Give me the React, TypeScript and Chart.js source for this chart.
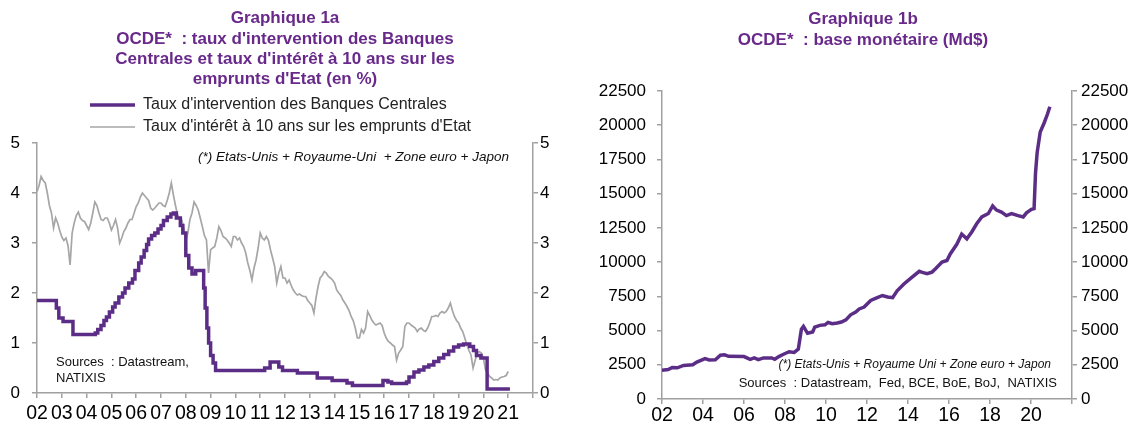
import React, { useEffect, useRef } from 'react';
import { Chart, registerables } from 'chart.js';

Chart.register(...registerables);

const FONT = "'Liberation Sans', Arial, sans-serif";
const PURPLE = '#5C2D87';
const TITLE_PURPLE = '#68298A';
const GRAY = '#A6A6A6';
const AXIS = '#A0A0A0';

// ---------- texts ----------
const titleLeft = [
  'Graphique 1a',
  "OCDE*  : taux d'intervention des Banques",
  "Centrales et taux d'intérêt à 10 ans sur les",
  "emprunts d'Etat (en %)",
];
const legendLeft = [
  'Taux d\'intervention des Banques Centrales',
  "Taux d'intérêt à 10 ans sur les emprunts d'Etat",
];
const noteLeft = '(*) Etats-Unis + Royaume-Uni  + Zone euro + Japon';
const sourcesLeft = ['Sources  : Datastream,', 'NATIXIS'];

const titleRight = ['Graphique 1b', 'OCDE*  : base monétaire (Md$)'];
const noteRight = '(*) Etats-Unis + Royaume Uni + Zone euro + Japon';
const sourcesRight = 'Sources  : Datastream,  Fed, BCE, BoE, BoJ,  NATIXIS';

// ---------- data: chart 1a ----------
const yieldStartYear = 2002; // monthly observations from Jan 2002
const yieldMonthly = [
  4.03, 4.15, 4.33, 4.25, 4.2, 4.0, 3.75, 3.6, 3.3, 3.5, 3.4, 3.25,
  3.12, 3.05, 3.1, 2.95, 2.56, 3.2, 3.4, 3.55, 3.62, 3.5, 3.45, 3.43,
  3.35, 3.27, 3.4, 3.6, 3.82, 3.75, 3.6, 3.47, 3.45, 3.5, 3.5, 3.4,
  3.26, 3.35, 3.47, 3.3, 3.0, 3.1, 3.23, 3.3, 3.4, 3.47, 3.47, 3.6,
  3.73, 3.8, 3.92, 4.0, 3.95, 3.9, 3.85, 3.7, 3.66, 3.7, 3.75, 3.8,
  3.8, 3.75, 3.73, 3.85, 4.0, 4.2, 3.96, 3.75, 3.56, 3.5, 3.47, 3.3,
  3.06, 3.2, 3.47, 3.6, 3.82, 3.75, 3.66, 3.5, 3.33, 3.15, 3.06, 2.4,
  2.86, 2.9, 2.93, 3.1, 3.33, 3.25, 3.13, 3.1, 3.06, 3.0, 2.93, 3.13,
  3.13, 3.06, 3.1, 3.0, 2.93, 2.8, 2.6, 2.45, 2.26, 2.5, 2.66, 2.9,
  3.2, 3.1, 3.06, 3.13, 3.05, 2.86, 2.7, 2.53, 2.2, 2.4, 2.53, 2.3,
  2.3, 2.2, 2.26, 2.15, 2.06, 2.0, 1.96, 1.98, 1.95, 1.93, 1.93, 1.85,
  1.8, 1.75, 1.6, 1.9, 2.13, 2.3, 2.35, 2.43, 2.4, 2.33, 2.3, 2.26,
  2.2, 2.06, 2.0, 1.95, 1.86, 1.8, 1.73, 1.65, 1.53, 1.45, 1.3, 1.1,
  1.1, 1.27, 1.2, 1.3, 1.63, 1.55, 1.46, 1.4, 1.36, 1.38, 1.4, 1.35,
  1.2, 1.1, 1.03, 1.0, 0.96, 0.93, 0.66, 0.8, 0.86, 0.93, 1.33, 1.4,
  1.4, 1.36, 1.33, 1.3, 1.23, 1.28, 1.3, 1.25, 1.23, 1.3, 1.4, 1.53,
  1.53, 1.55, 1.53, 1.6, 1.63, 1.6, 1.63, 1.7, 1.8, 1.65, 1.53, 1.45,
  1.4, 1.3, 1.23, 1.1, 0.96, 0.85, 0.76, 0.5, 0.65, 0.8, 0.83, 0.8,
  0.7, 0.46, 0.4, 0.33, 0.3, 0.26, 0.27, 0.26, 0.3, 0.32, 0.33, 0.35,
  0.43,
];

const policyDates = [
  2002, 2002.78, 2002.88, 2003.05, 2003.45, 2004.35, 2004.45, 2004.58, 2004.7, 2004.8,
  2004.92, 2005.05, 2005.15, 2005.3, 2005.45, 2005.55, 2005.7, 2005.85, 2005.95, 2006.1,
  2006.2, 2006.32, 2006.42, 2006.5, 2006.62, 2006.75, 2006.88, 2007.0, 2007.1, 2007.25,
  2007.4, 2007.5, 2007.62, 2007.78, 2007.88, 2008.0, 2008.12, 2008.25, 2008.4, 2008.72,
  2008.78, 2008.85, 2008.92, 2009.0, 2009.1, 2009.2, 2011.18, 2011.4, 2011.75, 2011.9,
  2012.5, 2013.3, 2013.9, 2014.5, 2014.72, 2015.95, 2016.15, 2016.3, 2016.9, 2017.0,
  2017.2, 2017.4, 2017.6, 2017.8, 2018.0, 2018.2, 2018.4, 2018.6, 2018.8, 2019.0,
  2019.2, 2019.45, 2019.6, 2019.72, 2019.9, 2020.15, 2021.07,
];
const policyRates = [
  1.85, 1.7, 1.5, 1.43, 1.17, 1.2, 1.27, 1.35, 1.45, 1.52,
  1.62, 1.72, 1.8, 1.92, 2.0, 2.1, 2.2, 2.28, 2.45, 2.6,
  2.72, 2.85, 2.97, 3.08, 3.15, 3.2, 3.28, 3.35, 3.45, 3.52,
  3.58, 3.6, 3.5, 3.35, 3.2, 2.75, 2.5, 2.38, 2.45, 2.1,
  1.7, 1.3, 1.0, 0.75, 0.6, 0.45, 0.5, 0.62, 0.52, 0.45,
  0.4, 0.3, 0.25, 0.2, 0.15, 0.25, 0.22, 0.19, 0.22, 0.32,
  0.42, 0.46, 0.52, 0.56, 0.63, 0.7, 0.77, 0.84, 0.92, 0.96,
  0.98, 0.93, 0.85, 0.75, 0.7, 0.08, 0.08,
];

// ---------- data: chart 1b ----------
const baseDates = [
  2002.0, 2002.3, 2002.5, 2002.75, 2003.05, 2003.5, 2003.7, 2004.1, 2004.3, 2004.6,
  2004.85, 2005.05, 2005.25, 2006.0, 2006.3, 2006.5, 2006.7, 2006.95, 2007.35, 2007.5,
  2007.7, 2007.9, 2008.2, 2008.45, 2008.65, 2008.8, 2008.9, 2009.1, 2009.35, 2009.45,
  2009.7, 2009.95, 2010.1, 2010.3, 2010.55, 2010.75, 2010.97, 2011.2, 2011.45, 2011.62,
  2011.86, 2012.18, 2012.5, 2012.75, 2013.0, 2013.25, 2013.47, 2013.8, 2014.2, 2014.55,
  2014.7, 2014.93, 2015.17, 2015.33, 2015.66, 2015.9, 2016.06, 2016.38, 2016.62, 2016.87,
  2017.11, 2017.35, 2017.6, 2017.92, 2018.13, 2018.32, 2018.56, 2018.8, 2019.05, 2019.37,
  2019.62, 2019.78, 2020.02, 2020.15, 2020.22, 2020.3, 2020.45, 2020.65, 2020.8, 2020.92,
];
const baseValues = [
  2100, 2150, 2300, 2280, 2450, 2500, 2700, 2950, 2850, 2870,
  3200, 3230, 3120, 3100, 2900, 3000, 2880, 3000, 3000, 2900,
  3100, 3250, 3450, 3400, 3650, 5100, 5300, 4800, 4900, 5250,
  5380, 5420, 5600, 5500, 5550, 5620, 5780, 6150, 6350, 6580,
  6720, 7200, 7400, 7560, 7450, 7400, 7900, 8400, 8900, 9330,
  9250, 9150, 9270, 9500, 10000, 10120, 10600, 11300, 12050, 11700,
  12200, 12800, 13300, 13550, 14100, 13800, 13650, 13400, 13550, 13400,
  13300, 13600, 13850, 13900, 16500, 18000, 19500, 20200, 20800, 21350,
];

// ---------- helpers ----------
type Item =
  | { kind: 'text'; text: string; x: number; y: number; font: string; color: string; align?: CanvasTextAlign }
  | { kind: 'line'; x1: number; x2: number; y: number; color: string; width: number };

function makeTextPlugin(id: string, items: Item[]) {
  return {
    id,
    afterDraw(chart: any) {
      const ctx: CanvasRenderingContext2D = chart.ctx;
      ctx.save();
      for (const it of items) {
        if (it.kind === 'line') {
          ctx.beginPath();
          ctx.strokeStyle = it.color;
          ctx.lineWidth = it.width;
          ctx.moveTo(it.x1, it.y);
          ctx.lineTo(it.x2, it.y);
          ctx.stroke();
        } else {
          ctx.font = it.font;
          ctx.fillStyle = it.color;
          ctx.textAlign = it.align || 'left';
          ctx.textBaseline = 'middle';
          ctx.fillText(it.text, it.x, it.y);
        }
      }
      ctx.restore();
    },
  };
}

const yearLabel = (v: any) => {
  const n = Math.round(Number(v));
  if (n >= 2022) return '';
  return String(n).slice(2);
};

function axisCommon(tickLen: number) {
  return {
    grid: { display: true, drawOnChartArea: false, drawTicks: true, tickLength: tickLen, color: AXIS, lineWidth: 1.5 },
    border: { display: true, color: AXIS, width: 1.5 },
  };
}

const TITLE_FONT = { family: FONT, size: 17, weight: 'bold', lineHeight: 1.2 };

function buildLeft(): any {
  const items: Item[] = [
    { kind: 'line', x1: 90, x2: 135, y: 105, color: PURPLE, width: 3.5 },
    { kind: 'text', text: legendLeft[0], x: 143, y: 105, font: `16px ${FONT}`, color: '#222' },
    { kind: 'line', x1: 90, x2: 135, y: 127, color: GRAY, width: 1.5 },
    { kind: 'text', text: legendLeft[1], x: 143, y: 127, font: `16px ${FONT}`, color: '#222' },
    { kind: 'text', text: noteLeft, x: 198, y: 157, font: `italic 13.5px ${FONT}`, color: '#111' },
    { kind: 'text', text: sourcesLeft[0], x: 56, y: 362, font: `13px ${FONT}`, color: '#111' },
    { kind: 'text', text: sourcesLeft[1], x: 56, y: 378, font: `13px ${FONT}`, color: '#111' },
  ];
  return {
    type: 'line',
    data: {
      datasets: [
        {
          label: legendLeft[0],
          data: policyDates.map((d, i) => ({ x: d, y: policyRates[i] })),
          borderColor: PURPLE,
          backgroundColor: PURPLE,
          borderWidth: 3.5,
          stepped: true,
          pointRadius: 0,
          yAxisID: 'y',
        },
        {
          label: legendLeft[1],
          data: yieldMonthly.map((v, i) => ({ x: yieldStartYear + i / 12, y: v })),
          borderColor: GRAY,
          backgroundColor: GRAY,
          borderWidth: 1.7,
          pointRadius: 0,
          tension: 0,
          yAxisID: 'y',
        },
      ],
    },
    options: {
      responsive: false,
      animation: false,
      devicePixelRatio: 1,
      layout: { padding: 0 },
      plugins: {
        legend: { display: false },
        tooltip: { enabled: false },
        title: {
          display: true,
          text: titleLeft,
          color: TITLE_PURPLE,
          font: TITLE_FONT,
          padding: { top: 8.3, bottom: 53.1 },
        },
      },
      scales: {
        x: {
          type: 'linear',
          min: 2002,
          max: 2022,
          afterFit: (s: any) => { s.height = 34; },
          ticks: {
            stepSize: 1, autoSkip: false, maxRotation: 0, padding: 4,
            color: '#000', font: { family: FONT, size: 19.5 },
            callback: yearLabel,
          },
          ...axisCommon(5),
        },
        y: {
          position: 'left',
          min: 0, max: 5,
          afterFit: (s: any) => { s.width = 37; },
          ticks: { stepSize: 1, padding: 12, color: '#000', font: { family: FONT, size: 17 } },
          ...axisCommon(5),
        },
        y2: {
          position: 'right',
          min: 0, max: 5,
          afterFit: (s: any) => { s.width = 37; },
          ticks: { stepSize: 1, padding: 2, color: '#000', font: { family: FONT, size: 17 } },
          ...axisCommon(5),
        },
      },
    },
    plugins: [makeTextPlugin('textsLeft', items)],
  };
}

function buildRight(): any {
  const items: Item[] = [
    { kind: 'text', text: noteRight, x: 466, y: 365, font: `italic 12px ${FONT}`, color: '#111', align: 'right' },
    { kind: 'text', text: sourcesRight, x: 472, y: 383, font: `13px ${FONT}`, color: '#111', align: 'right' },
  ];
  return {
    type: 'line',
    data: {
      datasets: [
        {
          label: 'Base monétaire',
          data: baseDates.map((d, i) => ({ x: d, y: baseValues[i] })),
          borderColor: PURPLE,
          backgroundColor: PURPLE,
          borderWidth: 3.5,
          pointRadius: 0,
          tension: 0,
          yAxisID: 'y',
        },
      ],
    },
    options: {
      responsive: false,
      animation: false,
      devicePixelRatio: 1,
      layout: { padding: 0 },
      plugins: {
        legend: { display: false },
        tooltip: { enabled: false },
        title: {
          display: true,
          text: titleRight,
          color: TITLE_PURPLE,
          font: TITLE_FONT,
          padding: { top: 9.3, bottom: 40.9 },
        },
      },
      scales: {
        x: {
          type: 'linear',
          min: 2002,
          max: 2022,
          afterFit: (s: any) => { s.height = 28; },
          ticks: {
            stepSize: 2, autoSkip: false, maxRotation: 0, padding: 0,
            color: '#000', font: { family: FONT, size: 19.5 },
            callback: yearLabel,
          },
          ...axisCommon(5),
        },
        y: {
          position: 'left',
          min: 0, max: 22500,
          afterFit: (s: any) => { s.width = 77; },
          ticks: { stepSize: 2500, padding: 11, color: '#000', font: { family: FONT, size: 17 }, callback: (v: any) => String(v) },
          ...axisCommon(5),
        },
        y2: {
          position: 'right',
          min: 0, max: 22500,
          afterFit: (s: any) => { s.width = 69; },
          ticks: { stepSize: 2500, padding: 4, color: '#000', font: { family: FONT, size: 17 }, callback: (v: any) => String(v) },
          ...axisCommon(5),
        },
      },
    },
    plugins: [makeTextPlugin('textsRight', items)],
  };
}

function ChartBox({ left, width, build }: { left: number; width: number; build: () => any }) {
  const ref = useRef<HTMLCanvasElement | null>(null);
  useEffect(() => {
    if (!ref.current) return;
    const chart = new Chart(ref.current, build());
    return () => chart.destroy();
  }, []);
  return (
    <div style={{ position: 'absolute', left, top: 0, width, height: 427 }}>
      <canvas ref={ref} width={width} height={427} style={{ display: 'block', width, height: 427 }} />
    </div>
  );
}

export default function App() {
  return (
    <div style={{ position: 'absolute', left: 0, top: 0, width: 1141, height: 427, background: '#fff', overflow: 'hidden' }}>
      <ChartBox left={0} width={570} build={buildLeft} />
      <ChartBox left={585} width={556} build={buildRight} />
    </div>
  );
}
